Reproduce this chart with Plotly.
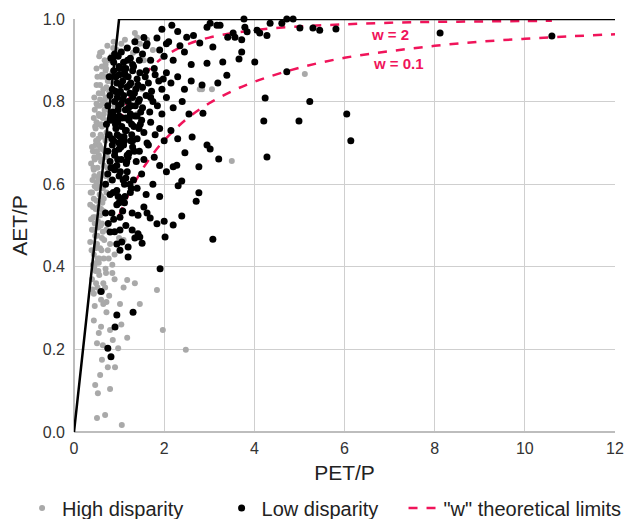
import plotly.graph_objects as go

# ---------------- data ----------------
# High disparity (grey points)
high_x = [
    0.58, 1.35, 1.13, 1.46, 1.62, 1.75, 1.97, 0.95, 0.80, 1.31, 1.05, 1.20, 1.40, 1.55, 0.70, 0.88, 1.25, 1.50, 1.68, 0.62,
    0.50, 0.55, 0.60, 0.65, 0.70, 0.75, 0.80, 0.68, 0.58, 0.72, 0.85, 0.95, 1.10, 1.30, 1.50, 1.70, 2.79, 2.84, 3.06, 0.62, 0.52, 0.78, 0.90, 5.12,
    0.42, 0.46, 0.50, 0.54, 0.58, 0.62, 0.66, 0.70, 0.74, 0.48, 0.56, 0.64, 0.72, 0.44, 0.52, 0.60, 0.68, 0.80, 0.90, 1.40, 0.50, 0.62, 0.76,
    0.38, 0.42, 0.45, 0.48, 0.52, 0.55, 0.58, 0.62, 0.66, 0.70, 0.40, 0.46, 0.50, 0.56, 0.60, 0.64, 0.68, 0.44, 0.52, 0.58, 0.74, 0.80, 3.50, 0.48, 0.54, 0.62,
    0.36, 0.40, 0.43, 0.46, 0.50, 0.53, 0.57, 0.60, 0.64, 0.68, 0.38, 0.44, 0.48, 0.55, 0.62, 0.42, 0.50, 0.58, 0.66, 0.72, 0.46, 0.54,
    0.36, 0.40, 0.44, 0.47, 0.50, 0.54, 0.58, 0.62, 0.66, 0.72, 0.80, 0.90, 1.00, 0.42, 0.48, 0.56, 0.64, 0.75, 0.85, 1.10, 0.52,
    0.40, 0.44, 0.48, 0.52, 0.56, 0.60, 0.65, 0.70, 0.78, 0.90, 1.02, 1.18, 1.35, 1.84, 0.46, 0.54, 0.62, 0.85, 1.10, 1.46, 0.72,
    0.44, 0.51, 0.64, 0.86, 0.98, 1.18, 0.80, 1.97, 2.48, 0.60, 0.72, 1.05, 0.55,
    0.47, 0.53, 0.80, 0.58, 0.91, 0.75, 1.06, 0.51, 0.69, 0.62,
    0.37, 0.41, 0.45, 0.49, 0.53, 0.57, 0.61, 0.65, 0.69, 0.73,
    0.39, 0.43, 0.47, 0.51, 0.55, 0.59, 0.63, 0.67, 0.71, 0.77,
    0.41, 0.45, 0.49, 0.53, 0.57, 0.61, 0.65, 0.69,
    0.43, 0.47, 0.51, 0.55, 0.59, 0.63, 0.67, 0.71, 0.75, 0.79, 0.83, 0.87,
    0.45, 0.50, 0.56, 0.62, 0.68, 0.74,
    0.52, 0.58, 0.64, 0.70,
]
high_y = [
    0.918, 0.966, 0.950, 0.940, 0.950, 0.925, 0.908, 0.925, 0.905, 0.918, 0.940, 0.930, 0.955, 0.900, 0.890, 0.945, 0.905, 0.915, 0.900, 0.885,
    0.840, 0.820, 0.860, 0.830, 0.875, 0.810, 0.850, 0.800, 0.805, 0.835, 0.870, 0.820, 0.855, 0.840, 0.830, 0.815, 0.830, 0.830, 0.830, 0.865, 0.860, 0.825, 0.860, 0.867,
    0.720, 0.780, 0.750, 0.710, 0.790, 0.740, 0.770, 0.705, 0.755, 0.735, 0.765, 0.795, 0.725, 0.760, 0.705, 0.745, 0.780, 0.715, 0.790, 0.770, 0.795, 0.715, 0.780,
    0.650, 0.680, 0.620, 0.695, 0.640, 0.670, 0.610, 0.685, 0.645, 0.620, 0.690, 0.660, 0.605, 0.695, 0.655, 0.625, 0.680, 0.635, 0.665, 0.690, 0.640, 0.610, 0.656, 0.680, 0.615, 0.660,
    0.550, 0.580, 0.520, 0.595, 0.560, 0.510, 0.575, 0.540, 0.590, 0.530, 0.515, 0.565, 0.540, 0.595, 0.505, 0.545, 0.590, 0.525, 0.565, 0.580, 0.505, 0.545,
    0.460, 0.490, 0.430, 0.475, 0.410, 0.495, 0.445, 0.470, 0.420, 0.490, 0.455, 0.430, 0.470, 0.405, 0.445, 0.420, 0.485, 0.440, 0.405, 0.465, 0.475,
    0.370, 0.335, 0.390, 0.350, 0.380, 0.320, 0.360, 0.395, 0.330, 0.370, 0.310, 0.368, 0.360, 0.344, 0.305, 0.390, 0.340, 0.385, 0.350, 0.310, 0.315,
    0.270, 0.215, 0.210, 0.223, 0.203, 0.228, 0.247, 0.247, 0.199, 0.255, 0.290, 0.260, 0.240,
    0.114, 0.094, 0.104, 0.138, 0.157, 0.157, 0.017, 0.034, 0.041, 0.175,
    0.580, 0.610, 0.665, 0.705, 0.745, 0.625, 0.570, 0.535, 0.600, 0.665,
    0.440, 0.490, 0.520, 0.455, 0.410, 0.500, 0.555, 0.465, 0.385, 0.420,
    0.345, 0.400, 0.360, 0.420, 0.340, 0.440, 0.310, 0.350,
    0.640, 0.740, 0.680, 0.770, 0.720, 0.820, 0.860, 0.880, 0.850, 0.900, 0.910, 0.930,
    0.810, 0.880, 0.910, 0.920, 0.900, 0.935,
    0.790, 0.840, 0.760, 0.810,
]

# Low disparity (black points)
low_x = [
    1.55, 1.84, 2.17, 2.50, 2.79, 3.17, 3.24, 3.02, 3.53, 3.79, 3.84, 4.06, 4.12, 4.35, 4.72, 4.86, 5.01, 5.30, 5.45, 3.77, 4.61, 5.81, 2.95, 8.12, 10.60, 3.41, 3.57, 3.72, 4.28, 2.30, 2.65, 1.95, 2.05,
    0.82, 0.90, 0.98, 1.05, 1.10, 1.18, 1.25, 1.30, 1.38, 1.45, 1.52, 1.60, 1.70, 1.78, 1.90, 2.00, 2.10, 2.20, 2.35, 2.45, 2.60, 3.08, 3.72, 3.66, 4.01, 3.30, 2.95, 1.00, 1.15, 1.35, 1.62,
    0.78, 0.85, 0.88, 0.95, 1.00, 1.03, 1.08, 1.12, 1.17, 1.20, 1.26, 1.30, 1.34, 1.40, 1.46, 1.52, 1.58, 1.65, 1.72, 1.80, 1.88, 1.95, 2.05, 2.15, 2.30, 2.45, 2.60, 2.84, 3.19, 3.39, 4.72, 1.10, 1.24, 1.42, 0.92, 1.60, 1.98,
    0.75, 0.80, 0.86, 0.90, 0.96, 1.00, 1.05, 1.10, 1.14, 1.20, 1.25, 1.30, 1.36, 1.40, 1.45, 1.52, 1.60, 1.68, 1.75, 1.85, 1.95, 2.05, 2.20, 2.40, 2.55, 2.86, 4.24, 5.23, 0.98, 1.22, 1.48, 1.70, 0.84, 6.05,
    0.72, 0.78, 0.82, 0.88, 0.93, 0.97, 1.02, 1.06, 1.12, 1.16, 1.22, 1.28, 1.33, 1.40, 1.47, 1.55, 1.62, 1.70, 1.80, 1.90, 2.00, 2.15, 2.30, 2.62, 4.21, 4.99, 0.90, 1.00, 1.15, 1.30, 1.50,
    0.75, 0.80, 0.85, 0.90, 0.95, 1.00, 1.05, 1.10, 1.16, 1.22, 1.30, 1.38, 1.45, 1.55, 1.65, 1.78, 1.90, 2.20, 2.28, 2.46, 2.77, 2.95, 3.02, 3.21, 6.14, 4.28, 0.88, 1.02, 1.20,
    0.70, 0.75, 0.80, 0.85, 0.90, 0.95, 1.00, 1.06, 1.12, 1.18, 1.25, 1.32, 1.40, 1.50, 1.60, 1.75, 1.90, 2.05, 2.31, 2.39, 2.71, 2.77, 0.82, 0.98, 1.15,
    0.70, 0.76, 0.84, 0.88, 0.95, 1.02, 1.08, 1.15, 1.29, 1.42, 1.62, 1.69, 1.84, 2.20, 2.39, 0.90, 1.12, 1.55, 2.00,
    0.80, 1.02, 1.29, 1.42, 1.46, 1.35, 1.06, 1.20, 1.02, 1.51, 2.02, 3.08, 0.95, 1.20,
    1.91, 0.60, 1.31, 0.95, 0.91, 0.75, 0.82,
    0.88, 0.93, 0.97, 1.01, 1.04, 1.08, 1.13, 1.19, 1.23, 1.27, 1.32, 1.37, 1.43,
    0.86, 0.92, 0.99, 1.07, 1.14, 1.21, 1.28, 1.35, 1.44,
    0.84, 0.91, 0.96, 1.04, 1.11, 1.18, 1.26, 1.34,
    0.89, 0.97, 1.03, 1.09, 1.17, 1.24,
    0.87, 1.00, 1.13, 1.27,
]
low_y = [
    0.955, 0.954, 0.985, 0.956, 0.942, 0.985, 0.985, 0.990, 0.966, 0.980, 0.969, 0.973, 0.966, 0.990, 1.000, 1.000, 0.978, 0.978, 0.973, 1.000, 0.990, 0.976, 0.980, 0.966, 0.959, 0.956, 0.956, 0.950, 0.960, 0.970, 0.960, 0.975, 0.940,
    0.905, 0.915, 0.910, 0.920, 0.895, 0.930, 0.905, 0.890, 0.925, 0.900, 0.915, 0.935, 0.900, 0.880, 0.925, 0.910, 0.945, 0.900, 0.935, 0.920, 0.890, 0.932, 0.920, 0.903, 0.896, 0.896, 0.893, 0.885, 0.880, 0.945, 0.940,
    0.860, 0.830, 0.875, 0.845, 0.865, 0.825, 0.850, 0.870, 0.835, 0.860, 0.845, 0.875, 0.820, 0.855, 0.870, 0.835, 0.860, 0.845, 0.825, 0.865, 0.850, 0.830, 0.870, 0.845, 0.860, 0.830, 0.850, 0.840, 0.845, 0.864, 0.872, 0.880, 0.820, 0.840, 0.825, 0.875, 0.855,
    0.790, 0.815, 0.775, 0.800, 0.810, 0.765, 0.795, 0.815, 0.780, 0.800, 0.770, 0.810, 0.790, 0.765, 0.805, 0.785, 0.815, 0.775, 0.800, 0.790, 0.770, 0.810, 0.785, 0.800, 0.770, 0.772, 0.809, 0.800, 0.780, 0.760, 0.775, 0.810, 0.765, 0.770,
    0.745, 0.720, 0.755, 0.705, 0.735, 0.750, 0.715, 0.740, 0.705, 0.730, 0.755, 0.720, 0.740, 0.710, 0.745, 0.725, 0.700, 0.750, 0.720, 0.735, 0.705, 0.730, 0.710, 0.714, 0.753, 0.753, 0.760, 0.700, 0.760, 0.705, 0.755,
    0.680, 0.655, 0.695, 0.670, 0.645, 0.685, 0.660, 0.695, 0.650, 0.675, 0.690, 0.655, 0.680, 0.660, 0.695, 0.665, 0.645, 0.642, 0.646, 0.676, 0.642, 0.695, 0.685, 0.661, 0.705, 0.666, 0.640, 0.700, 0.665,
    0.600, 0.625, 0.575, 0.610, 0.635, 0.585, 0.620, 0.565, 0.600, 0.630, 0.580, 0.610, 0.590, 0.625, 0.575, 0.600, 0.570, 0.630, 0.596, 0.608, 0.559, 0.579, 0.640, 0.570, 0.615,
    0.530, 0.505, 0.530, 0.515, 0.550, 0.520, 0.535, 0.500, 0.530, 0.525, 0.530, 0.518, 0.504, 0.501, 0.523, 0.485, 0.555, 0.545, 0.510,
    0.484, 0.489, 0.489, 0.480, 0.472, 0.470, 0.460, 0.448, 0.440, 0.457, 0.472, 0.467, 0.455, 0.424,
    0.395, 0.340, 0.290, 0.283, 0.254, 0.203, 0.182,
    0.895, 0.860, 0.820, 0.880, 0.840, 0.805, 0.865, 0.900, 0.840, 0.790, 0.885, 0.830, 0.800,
    0.770, 0.745, 0.790, 0.760, 0.730, 0.785, 0.745, 0.765, 0.735,
    0.710, 0.680, 0.720, 0.690, 0.715, 0.670, 0.705, 0.680,
    0.640, 0.660, 0.630, 0.610, 0.655, 0.600,
    0.580, 0.555, 0.570, 0.590,
]

# "w" theoretical limit curves
w2_x = [1.0, 1.25, 1.5, 1.75, 2.0, 2.5, 3.0, 4.0, 5.0, 6.0, 7.0, 8.0, 9.0, 10.0, 10.6]
w2_y = [0.750, 0.814, 0.857, 0.886, 0.909, 0.938, 0.955, 0.973, 0.982, 0.987, 0.991, 0.993, 0.994, 0.995, 0.996]
w01_x = [1.0, 1.25, 1.5, 1.75, 2.0, 2.5, 3.0, 3.5, 4.0, 5.0, 6.0, 7.0, 8.0, 9.0, 10.0, 11.0, 12.0]
w01_y = [0.524, 0.584, 0.633, 0.673, 0.706, 0.758, 0.796, 0.825, 0.848, 0.882, 0.906, 0.922, 0.935, 0.945, 0.952, 0.958, 0.963]

# energy / water limit
limit_x = [0, 1, 12]
limit_y = [0, 1, 1]

x_ticks = [0, 2, 4, 6, 8, 10, 12]
y_ticks = [0.0, 0.2, 0.4, 0.6, 0.8, 1.0]

RED = "#f0145a"
FONT = "Liberation Sans, Arial, sans-serif"
NB = "\u00a0"

fig = go.Figure()

fig.add_trace(go.Scatter(x=w01_x, y=w01_y, mode="lines", line=dict(color=RED, width=2.5, dash="dash", shape="spline"),
                         showlegend=False, hoverinfo="skip"))
fig.add_trace(go.Scatter(x=w2_x, y=w2_y, mode="lines", line=dict(color=RED, width=2.5, dash="dash", shape="spline"),
                         showlegend=False, hoverinfo="skip"))

fig.add_trace(go.Scatter(x=high_x, y=high_y, mode="markers", name="High disparity" + NB * 6,
                         marker=dict(color="#a9a9a9", size=6, line=dict(width=0)), legend="legend"))
fig.add_trace(go.Scatter(x=low_x, y=low_y, mode="markers", name="Low disparity",
                         marker=dict(color="#000000", size=7, line=dict(width=0)), legend="legend"))

fig.add_trace(go.Scatter(x=limit_x, y=limit_y, mode="lines", line=dict(color="#000000", width=2.5),
                         showlegend=False, hoverinfo="skip"))

# legend entry for the w curves
fig.add_trace(go.Scatter(x=[None], y=[None], mode="lines", name='"w" theoretical limits',
                         line=dict(color=RED, width=2.5, dash="dash"), legend="legend2"))

fig.add_annotation(x=7.0, y=0.962, text="<b>w = 2</b>", showarrow=False,
                   font=dict(color=RED, size=15, family=FONT))
fig.add_annotation(x=7.2, y=0.893, text="<b>w = 0.1</b>", showarrow=False,
                   font=dict(color=RED, size=15, family=FONT))

# page body adds an 8 px offset, so margins are compensated for it
fig.update_layout(
    width=640, height=519,
    margin=dict(l=66, r=33, t=11, b=95),
    plot_bgcolor="white", paper_bgcolor="white",
    font=dict(family=FONT, color="#333333", size=16),
    showlegend=True,
    legend=dict(orientation="h", xref="container", yref="container", x=0.022, xanchor="left",
                y=0.0366, yanchor="middle",
                font=dict(size=20, color="#222222"), itemwidth=30, tracegroupgap=0),
    legend2=dict(orientation="h", xref="container", yref="container", x=0.618, xanchor="left",
                 y=0.0366, yanchor="middle",
                 font=dict(size=20, color="#222222"), itemwidth=30, tracegroupgap=0),
)
fig.update_xaxes(range=[0, 12], tickvals=x_ticks, showgrid=True, gridcolor="#cfcfcf", gridwidth=1,
                 zeroline=True, zerolinecolor="#bdbdbd", zerolinewidth=1.5, ticks="", automargin=False,
                 ticklabelstandoff=5,
                 title=dict(text="PET/P", font=dict(size=21, color="#222222"), standoff=9),
                 tickfont=dict(size=16, color="#333333"))
fig.update_yaxes(range=[0, 1], tickvals=y_ticks, tickformat=".1f", showgrid=True, gridcolor="#cfcfcf", gridwidth=1,
                 zeroline=True, zerolinecolor="#bdbdbd", zerolinewidth=1.5, ticks="", automargin=False,
                 ticklabelstandoff=8,
                 title=dict(text="AET/P", font=dict(size=21, color="#222222"), standoff=10),
                 tickfont=dict(size=16, color="#333333"))
fig.update_traces(cliponaxis=False, selector=dict(mode="markers"))

fig.write_html("out.html")
